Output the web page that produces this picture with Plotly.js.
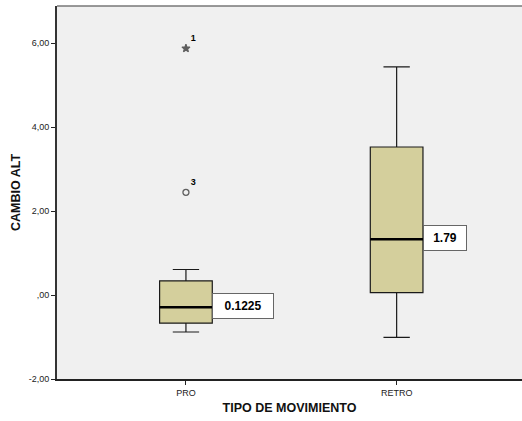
<!DOCTYPE html>
<html>
<head>
<meta charset="utf-8">
<script src="https://cdn.plot.ly/plotly-3.0.1.min.js"></script>
<style>html,body{margin:0;padding:0;background:#fff;}#chart{width:522px;height:421px;}</style>
</head>
<body>
<div id="chart"></div>
<script>
// Data
const categories = ["PRO", "RETRO"];
const catPos = [0, 1];
const lowerWhisker = [-0.88, -1.01];
const q1 = [-0.67, 0.06];
const median = [-0.29, 1.33];
const q3 = [0.34, 3.53];
const upperWhisker = [0.61, 5.44];
const labelTexts = ["0.1225", "1.79"];
const outlierCat = [0, 0];
const outlierVals = [5.88, 2.45];
const outlierIds = ["1", "3"];
const outlierSymbols = ["star", "circle-open"];
const yTickVals = [-2, 0, 2, 4, 6];
const yTickText = ["-2,00", ",00", "2,00", "4,00", "6,00"];

const boxW = 0.25;
const traces = [];
traces.push({
  type: "box",
  x: catPos,
  q1: q1, median: median, q3: q3,
  lowerfence: lowerWhisker, upperfence: upperWhisker,
  width: boxW,
  whiskerwidth: 0.5,
  fillcolor: "#d4cf9c",
  line: {color: "#1a1a1a", width: 1.2},
  boxpoints: false,
  hoverinfo: "skip",
  showlegend: false
});
// thicker median line overlay
traces.push({
  type: "box",
  x: catPos,
  q1: median, median: median, q3: median,
  lowerfence: median, upperfence: median,
  width: boxW,
  whiskerwidth: 0,
  fillcolor: "rgba(0,0,0,0)",
  line: {color: "#000", width: 2.4},
  boxpoints: false,
  hoverinfo: "skip",
  showlegend: false
});
traces.push({
  type: "scatter",
  mode: "markers+text",
  x: outlierCat,
  y: outlierVals,
  text: outlierIds,
  textposition: "top right",
  textfont: {family: "Liberation Sans, Arial, sans-serif", size: 9, color: "#000", weight: "bold"},
  marker: {symbol: outlierSymbols, size: [6, 6], color: "#222", line: {color: "#222", width: 1.3}},
  cliponaxis: false,
  hoverinfo: "skip",
  showlegend: false
});

const annotations = labelTexts.map((t, i) => ({
  x: catPos[i] + boxW / 2,
  y: median[i],
  xref: "x", yref: "y",
  xanchor: "left", yanchor: "middle",
  yshift: 1,
  text: "<b>" + t + "</b>",
  showarrow: false,
  bgcolor: "#ffffff",
  bordercolor: "#666",
  borderwidth: 1,
  borderpad: 4,
  width: t.length > 4 ? 52 : 34,
  height: 16,
  font: {family: "Liberation Sans, Arial, sans-serif", size: 12, color: "#000"}
}));

const layout = {
  width: 522, height: 421,
  margin: {l: 57, r: 0, t: 6, b: 42},
  paper_bgcolor: "#ffffff",
  plot_bgcolor: "#f0f0f0",
  font: {family: "Liberation Sans, Arial, sans-serif", color: "#222"},
  xaxis: {
    range: [-0.612, 1.595],
    tickvals: catPos,
    ticktext: categories,
    ticks: "outside", ticklen: 4, tickcolor: "#222", tickwidth: 1,
    tickfont: {size: 9, color: "#222"},
    showgrid: false, zeroline: false,
    showline: true, linecolor: "#222", linewidth: 2,
    title: {text: "<b>TIPO DE MOVIMIENTO</b>", font: {size: 12.5, color: "#111"}, standoff: 6}
  },
  yaxis: {
    range: [-2, 6.89],
    tickvals: yTickVals,
    ticktext: yTickText,
    ticks: "outside", ticklen: 4, tickcolor: "#222", tickwidth: 1,
    tickfont: {size: 9, color: "#222"},
    showgrid: false, zeroline: false,
    showline: true, linecolor: "#333", linewidth: 2,
    title: {text: "<b>CAMBIO ALT</b>", font: {size: 12.5, color: "#111"}, standoff: 5}
  },
  shapes: [{
    type: "line", xref: "paper", yref: "paper",
    x0: 0, x1: 1, y0: 1, y1: 1,
    line: {color: "#777", width: 1.5}
  }],
  annotations: annotations
};

Plotly.newPlot("chart", traces, layout, {displayModeBar: false, staticPlot: true});
</script>
</body>
</html>
